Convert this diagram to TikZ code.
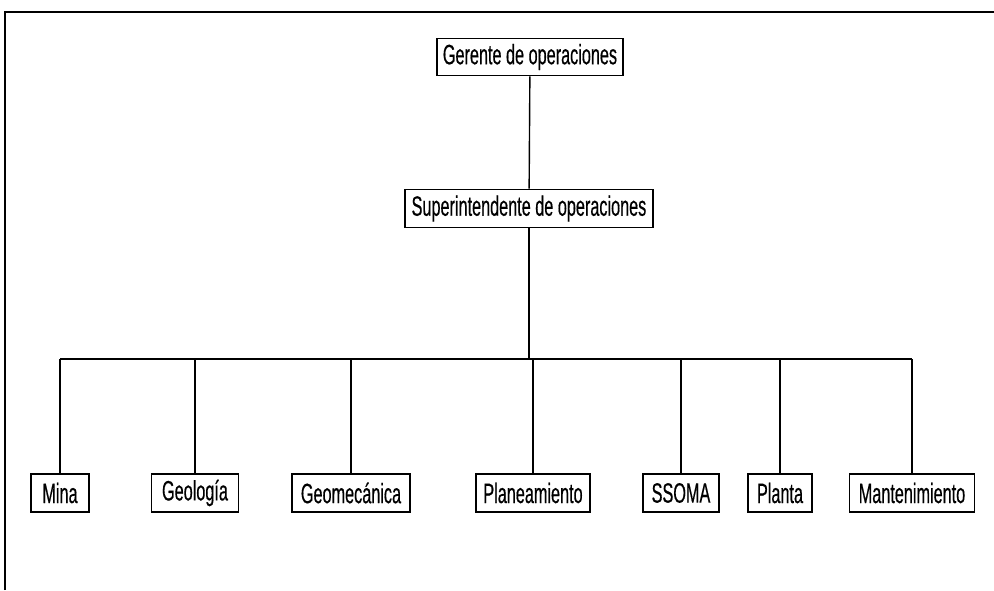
\documentclass[tikz,border=0pt]{standalone}
\usepackage{fontspec}
\setmainfont{Liberation Sans}[FakeStretch=0.58,FakeBold=0.4]
\begin{document}
\begin{tikzpicture}[x=1pt,y=-1pt,
  box/.style={draw, line width=1.6pt, minimum height=37pt, inner xsep=3pt, inner ysep=0pt,
    font=\fontsize{28}{30}\selectfont, anchor=center},
  link/.style={line width=1.4pt}]
\useasboundingbox (0,0) rectangle (994,590);
\draw[line width=1.8pt] (5,590) -- (5,12) -- (994,12);

\node[box, minimum width=186pt] (g) at (530,57) {Gerente de operaciones};
\node[box, minimum width=248pt, minimum height=38pt] (s) at (529,208.5) {Superintendente de operaciones};

\node[box, minimum width=58pt, minimum height=38pt] (mina) at (60,493) {Mina};
\node[box, minimum width=87pt, minimum height=38pt] (geo) at (195,493) {Geología};
\node[box, minimum width=118pt, minimum height=38pt] (geom) at (351,493) {Geomecánica};
\node[box, minimum width=114pt, minimum height=38pt] (plan) at (533,493) {Planeamiento};
\node[box, minimum width=76pt, minimum height=38pt] (ssoma) at (681,493) {SSOMA};
\node[box, minimum width=64pt, minimum height=38pt] (planta) at (780,493) {Planta};
\node[box, minimum width=125pt, minimum height=38pt] (mant) at (912,493) {Mantenimiento};

\coordinate (bus) at (529,359);

\draw[link] (g) -- (s);
\draw[link] (s.south) -- (bus);
\draw[link] (mina.north |- bus) -- (mant.north |- bus);
\foreach \c in {mina,geo,geom,plan,ssoma,planta,mant}
  \draw[link] (\c.north) -- (\c.north |- bus);
\end{tikzpicture}
\end{document}
